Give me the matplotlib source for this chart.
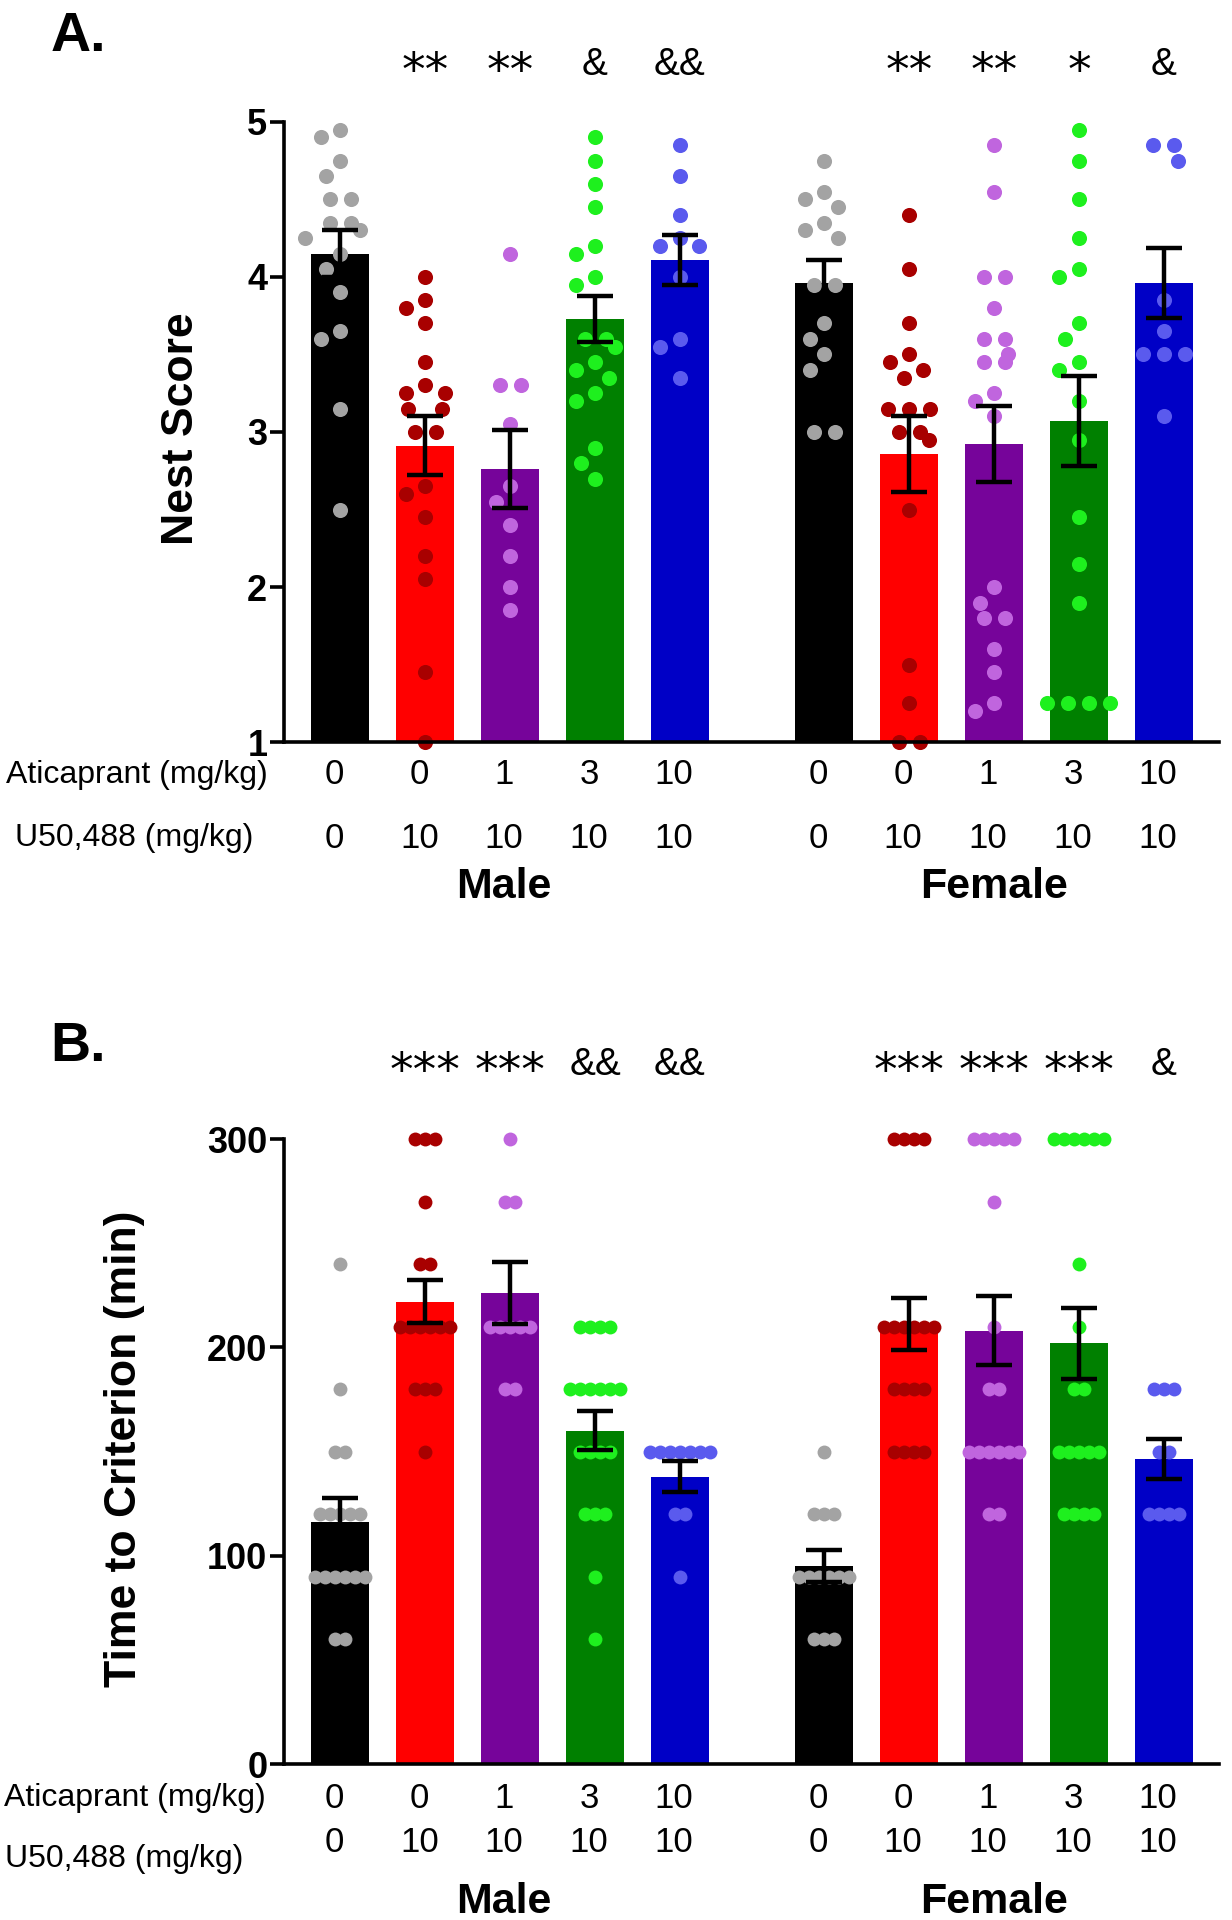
import numpy as np
import matplotlib.pyplot as plt
from matplotlib import transforms

plt.rcParams['font.family'] = ['Liberation Sans', 'DejaVu Sans']

# group layout: 5 male groups, 5 female groups
x_male = [0, 1, 2, 3, 4]
x_female = [5.7, 6.7, 7.7, 8.7, 9.7]
atic_doses = ['0', '0', '1', '3', '10']
u50_doses = ['0', '10', '10', '10', '10']

bar_colors = ['#000000', '#FF0000', '#76049A', '#008000', '#0000C6']
dot_colors = ['#A3A3A3', '#A80000', '#C065DE', '#1EF01E', '#5A5AEE']

# ---- A. Nest score ----
nest_male_mean = [4.15, 2.91, 2.76, 3.73, 4.11]
nest_male_sem = [0.15, 0.19, 0.25, 0.15, 0.16]
nest_female_mean = [3.96, 2.86, 2.92, 3.07, 3.96]
nest_female_sem = [0.15, 0.245, 0.245, 0.29, 0.225]

nest_male_veh = [4.95, 4.9, 4.75, 4.65, 4.5, 4.5, 4.35, 4.35, 4.3, 4.25, 4.15, 4.05, 3.9, 3.65, 3.6, 3.15, 2.5]
nest_male_u50 = [4.0, 3.85, 3.8, 3.7, 3.45, 3.3, 3.25, 3.25, 3.15, 3.15, 3.0, 3.0, 2.65, 2.6, 2.45, 2.2, 2.05, 1.45, 1.0]
nest_male_a1 = [4.15, 3.3, 3.3, 3.05, 2.65, 2.55, 2.4, 2.2, 2.0, 1.85]
nest_male_a3 = [4.9, 4.75, 4.6, 4.45, 4.2, 4.15, 4.0, 3.95, 3.6, 3.6, 3.55, 3.45, 3.4, 3.35, 3.25, 3.2, 2.9, 2.8, 2.7]
nest_male_a10 = [4.85, 4.65, 4.4, 4.25, 4.2, 4.2, 4.0, 3.6, 3.55, 3.35]
nest_female_veh = [4.75, 4.55, 4.5, 4.45, 4.35, 4.3, 4.25, 3.95, 3.95, 3.7, 3.6, 3.5, 3.4, 3.0, 3.0]
nest_female_u50 = [4.4, 4.05, 3.7, 3.5, 3.45, 3.4, 3.35, 3.15, 3.15, 3.15, 3.0, 3.0, 2.95, 2.5, 1.5, 1.25, 1.0, 1.0]
nest_female_a1 = [4.85, 4.55, 4.0, 4.0, 3.8, 3.6, 3.6, 3.5, 3.45, 3.45, 3.25, 3.2, 3.1, 2.0, 1.9, 1.8, 1.8, 1.6, 1.45, 1.25, 1.2]
nest_female_a3 = [4.95, 4.75, 4.5, 4.25, 4.05, 4.0, 3.7, 3.6, 3.45, 3.4, 3.2, 2.95, 2.45, 2.15, 1.9, 1.25, 1.25, 1.25, 1.25]
nest_female_a10 = [4.85, 4.85, 4.75, 3.85, 3.65, 3.5, 3.5, 3.5, 3.1]

nest_sig_male = ['**', '**', '&', '&&']
nest_sig_female = ['**', '**', '*', '&']

# ---- B. Time to criterion ----
ttc_male_mean = [116, 222, 226, 160, 138]
ttc_male_sem = [11.5, 10.5, 15, 9.5, 7.3]
ttc_female_mean = [95, 211, 208, 202, 146.5]
ttc_female_sem = [7.5, 12.5, 16.5, 17, 9.5]

ttc_male_veh = [240, 180, 150, 150, 120, 120, 120, 120, 120, 90, 90, 90, 90, 90, 90, 60, 60]
ttc_male_u50 = [300, 300, 300, 270, 240, 240, 210, 210, 210, 210, 210, 210, 180, 180, 180, 150]
ttc_male_a1 = [300, 270, 270, 210, 210, 210, 210, 210, 180, 180]
ttc_male_a3 = [210, 210, 210, 210, 180, 180, 180, 180, 180, 180, 150, 150, 150, 150, 120, 120, 120, 90, 60]
ttc_male_a10 = [150, 150, 150, 150, 150, 150, 150, 120, 120, 90]
ttc_female_veh = [150, 120, 120, 120, 90, 90, 90, 90, 90, 90, 60, 60, 60]
ttc_female_u50 = [300, 300, 300, 300, 210, 210, 210, 210, 210, 210, 180, 180, 180, 180, 150, 150, 150, 150]
ttc_female_a1 = [300, 300, 300, 300, 300, 270, 210, 180, 180, 150, 150, 150, 150, 150, 150, 120, 120]
ttc_female_a3 = [300, 300, 300, 300, 300, 300, 240, 210, 180, 180, 150, 150, 150, 150, 150, 120, 120, 120, 120]
ttc_female_a10 = [180, 180, 180, 150, 150, 120, 120, 120, 120]

ttc_sig_male = ['***', '***', '&&', '&&']
ttc_sig_female = ['***', '***', '***', '&']


def swarm_x(ax, x0, vals, gap):
    # simple beeswarm in pixel space, then center rows of equal values
    pts = ax.transData.transform(np.column_stack([np.full(len(vals), x0), vals]))
    ys = pts[:, 1]
    xs = np.zeros(len(vals))
    placed = []
    for i in np.argsort(-ys, kind='stable'):
        y = ys[i]
        bad = []
        for px, py in placed:
            dy = abs(py - y)
            if dy < gap:
                dx = np.sqrt(gap ** 2 - dy ** 2)
                bad.append((px - dx, px + dx))
        cands = sorted([0.0] + [e for iv in bad for e in iv], key=lambda c: (abs(c), c))
        for c in cands:
            if all(not (lo + 1e-6 < c < hi - 1e-6) for lo, hi in bad):
                xs[i] = c
                break
        placed.append((xs[i], y))
    vals = np.asarray(vals)
    for v in np.unique(vals):
        m = vals == v
        if m.sum() > 1:
            xs[m] -= xs[m].mean()
    back = ax.transData.inverted().transform(np.column_stack([pts[:, 0] + xs, ys]))
    return back[:, 0]


def draw_panel(ax, means, sems, groups, ylim, yticks, gap, dot_size, sig, sig_y, ylabel, ylabel_x):
    xs = x_male + x_female
    ax.set_xlim(-0.664, 10.35)
    ax.set_ylim(*ylim)
    ax.bar(xs, means, width=0.68, color=bar_colors * 2, zorder=1)
    for k, (x0, vals) in enumerate(zip(xs, groups)):
        sx = swarm_x(ax, x0, vals, gap)
        ax.scatter(sx, vals, s=dot_size, color=dot_colors[k % 5], linewidths=0,
                   zorder=2, clip_on=False)
    ax.errorbar(xs, means, yerr=sems, fmt='none', ecolor='black', elinewidth=3.2,
                capsize=13, capthick=3.2, zorder=3)
    for s in ['top', 'right']:
        ax.spines[s].set_visible(False)
    for s in ['left', 'bottom']:
        ax.spines[s].set_linewidth(2.6)
    ax.set_xticks([])
    ax.set_yticks(yticks)
    ax.tick_params(axis='y', length=10, width=2.6, labelsize=26, pad=2)
    for lab in ax.get_yticklabels():
        lab.set_fontweight('bold')
    ax.set_ylabel(ylabel, fontsize=32, fontweight='bold')
    ax.yaxis.set_label_coords(ylabel_x, 0.505)
    tr = transforms.blended_transform_factory(ax.transData, fig.transFigure)
    for x0, t in zip(xs[1:5] + xs[6:], sig):
        if '*' in t:
            ax.text(x0, sig_y - 0.004, t, transform=tr, ha='center', va='center',
                    fontsize=34, family='DejaVu Sans')
        else:
            ax.text(x0, sig_y, t, transform=tr, ha='center', va='center', fontsize=28)
    return tr


fig = plt.figure(figsize=(12.32, 19.2), dpi=100)
axA = fig.add_axes([0.2305, 0.6135, 0.759, 0.323])
axB = fig.add_axes([0.2305, 0.08125, 0.759, 0.3255])

nest_groups = [nest_male_veh, nest_male_u50, nest_male_a1, nest_male_a3, nest_male_a10,
               nest_female_veh, nest_female_u50, nest_female_a1, nest_female_a3, nest_female_a10]
ttc_groups = [ttc_male_veh, ttc_male_u50, ttc_male_a1, ttc_male_a3, ttc_male_a10,
              ttc_female_veh, ttc_female_u50, ttc_female_a1, ttc_female_a3, ttc_female_a10]

trA = draw_panel(axA, nest_male_mean + nest_female_mean, nest_male_sem + nest_female_sem,
                 nest_groups, (1, 5), [1, 2, 3, 4, 5], 21, 118,
                 nest_sig_male + nest_sig_female, 0.966, 'Nest Score', -0.088)
trB = draw_panel(axB, ttc_male_mean + ttc_female_mean, ttc_male_sem + ttc_female_sem,
                 ttc_groups, (0, 300), [0, 100, 200, 300], 10, 100,
                 ttc_sig_male + ttc_sig_female, 0.4453, 'Time to Criterion (min)', -0.149)

# dose rows under the axes
xs_all = x_male + x_female
for tr, y1, y2 in [(trA, 0.5964, 0.5635), (trB, 0.0635, 0.0406)]:
    for x0, a, u in zip(xs_all, atic_doses * 2, u50_doses * 2):
        fig.text(x0 - 0.07, y1, a, transform=tr, ha='center', va='center', fontsize=25)
        fig.text(x0 - 0.07, y2, u, transform=tr, ha='center', va='center', fontsize=25)

fig.text(0.005, 0.5964, 'Aticaprant (mg/kg)', ha='left', va='center', fontsize=23)
fig.text(0.012, 0.5635, 'U50,488 (mg/kg)', ha='left', va='center', fontsize=23)
fig.text(0.003, 0.0635, 'Aticaprant (mg/kg)', ha='left', va='center', fontsize=23)
fig.text(0.004, 0.0318, 'U50,488 (mg/kg)', ha='left', va='center', fontsize=23)

for tr, y in [(trA, 0.538), (trB, 0.0095)]:
    fig.text(np.mean(x_male) - 0.07, y, 'Male', transform=tr, ha='center', va='center',
             fontsize=31, fontweight='bold')
    fig.text(np.mean(x_female), y, 'Female', transform=tr, ha='center', va='center',
             fontsize=31, fontweight='bold')

fig.text(0.041, 0.9807, 'A.', ha='left', va='center', fontsize=40, fontweight='bold')
fig.text(0.041, 0.4547, 'B.', ha='left', va='center', fontsize=40, fontweight='bold')

fig.savefig('out.png', dpi=100)
